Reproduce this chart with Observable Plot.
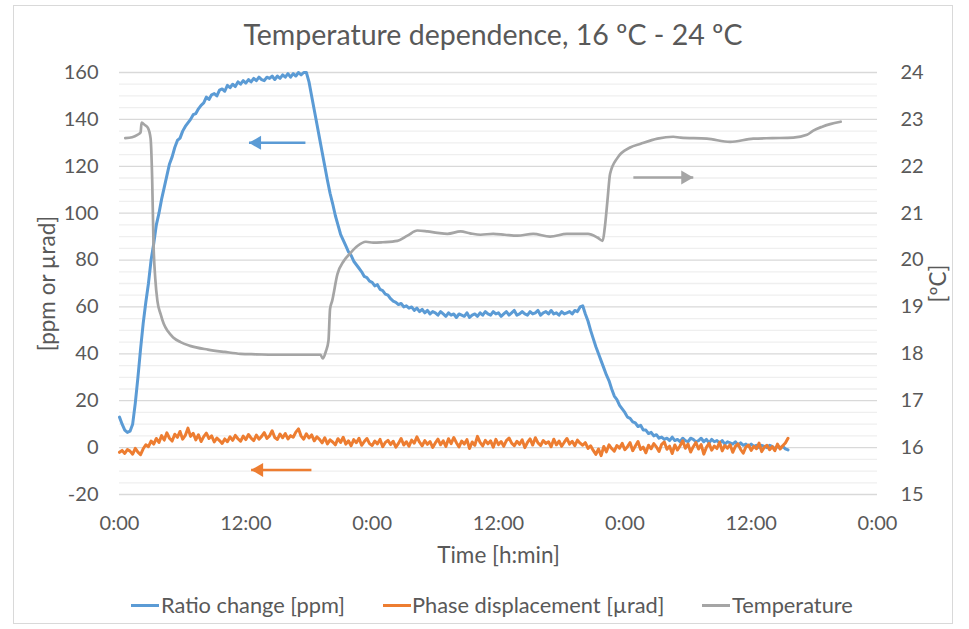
<!DOCTYPE html>
<html>
<head>
<meta charset="utf-8">
<script src="https://cdn.jsdelivr.net/npm/d3@7"></script>
<script src="https://cdn.jsdelivr.net/npm/@observablehq/plot@0.6"></script>
<style>
  body { margin: 0; background: #fff; }
  #wrap { position: relative; width: 969px; height: 629px; font-family: Lato, "Open Sans", sans-serif; color: #595959; overflow: hidden; background: #fff; }
  #border { position: absolute; left: 13px; top: 5px; width: 940px; height: 619px; border: 1px solid #d9d9d9; box-sizing: border-box; }
  #title { position: absolute; left: 0; top: 15px; width: 986px; text-align: center; font-size: 28.5px; line-height: 38px; white-space: nowrap; }
  #chart { position: absolute; left: 0; top: 0; }
  .lg { position: absolute; top: 592px; height: 26px; line-height: 26px; font-size: 21.8px; white-space: nowrap; }
  .sw { position: absolute; top: 604px; width: 28px; height: 3px; }
</style>
</head>
<body>
<div id="wrap">
  <div id="border"></div>
  <div id="title"></div>
  <div id="chart"></div>
  <div id="legend"></div>
</div>
<script>
// ---------- Data ----------
const chartTitle = "Temperature dependence, 16 ºC - 24 ºC";
const seriesNames = ["Ratio change [ppm]", "Phase displacement [µrad]", "Temperature"];
const seriesColors = ["#5b9bd5", "#ed7d31", "#a5a5a5"];

const xTicks = [0, 12, 24, 36, 48, 60, 72];           // hours since start
const xTickLabels = ["0:00", "12:00", "0:00", "12:00", "0:00", "12:00", "0:00"];
const leftTicks = [-20, 0, 20, 40, 60, 80, 100, 120, 140, 160];
const rightTicks = [15, 16, 17, 18, 19, 20, 21, 22, 23, 24];

// Ratio change [ppm], one reading every 0.25 h starting at 0:00
const ratioStep = 0.25;
const ratioPpm = [
  13,10,7.5,6.5,7,10,19,30,
  42,53,62,70,80,87,95,100,
  106,111,116,121,124,128,131,132,
  135,137,138.5,140,142,142.5,144.5,146,
  147,149.5,148.5,150.5,151,150,152.5,153,
  152,154.5,153.5,155,154,156,155,156.5,
  155.5,157,156,157.5,156.5,158,157,156.5,
  158,157.5,158.5,157,158.5,157.5,159,158,
  159.5,158,159.5,158.5,160,159,160,160,
  156,150,144,138,132,126,120,114,
  108.5,104,99,95,91,88.5,86,83.5,
  82,79.5,78,76.5,75,73,72.5,71,
  70.5,69,69.5,67.5,67,65.5,65,63.5,
  62.5,62,61,61.5,60,60.5,59.5,60,
  58.5,59.5,58,59,57.5,58.5,57,58,
  57.5,56.5,58,57,56,57.5,56.5,57,
  55.5,57,56.5,56,57.5,55.5,56.5,57,
  56,57.5,56.5,58,57,56.5,58,57,
  57.5,56,57,58,56.5,57.5,58.5,56.5,
  57,58,57,56.5,58,57,57.5,58.5,
  56.5,57.5,58,57,58.5,57,57.5,56.5,
  58,57,57.5,58,57,58.5,58,60,
  60.5,57,54,50,46.5,43,40,37,
  34,31,28.5,25,22,20.5,18,16.5,
  15,13,12.5,11,10.5,9,9.5,7.5,
  7.5,6,6.5,5,5.5,4,4.5,3.5,
  4,3,4.5,3,3.5,2.5,4,3,
  2.5,4,3.5,2.5,3,4,2.5,3.5,
  2,3.5,2.5,3,2,3,1.5,2.5,
  2,1.5,2.5,1,2,1,1.5,0.5,
  1.5,0.5,1,0,1,0.5,0,1,
  0.5,-0.5,0.5,0,0.5,-0.5,-1
];

// Phase displacement [µrad], one reading every 0.25 h starting at 0:00
const phaseStep = 0.25;
const phaseUrad = [
  -2,-1.2,-2.5,-0.8,-1.5,-2.8,-0.3,-1.9,-3,
  -0.5,1.2,0.4,2.8,1.5,3.9,2.2,
  5.1,3.2,6.3,4.0, 2.8,5.7,4.4,6.9, 3.6,5.2,8.3,4.8, 6.1,3.3,5.5,2.6,
  4.7,6.2,3.9,5.0, 2.4,4.1,3.0,1.8, 3.7,2.5,4.6,3.1, 5.2,3.8,2.7,4.9,
  3.4,5.6,4.0,3.0, 5.3,3.6,4.8,6.4, 3.9,5.0,7.2,4.3, 3.5,5.8,4.2,6.0,
  3.7,5.1,4.4,6.6, 8.0,4.9,3.6,5.9, 4.1,5.4,2.9,4.6,
  3.5,2.0,4.2,1.6,3.3,2.4,1.2,3.8,2.2,4.4,1.5,2.9,0.8,3.4,2.1,4.0,1.0,2.6,3.9,1.7,
  0.9,2.8,1.6,3.5,0.4,2.2,3.1,1.3,
  2.7,0.2,1.8,3.9,1.1,2.5,0.6,3.2,
  1.9,4.6,2.3,0.8,3.0,1.4,2.6,0.1,
  2.0,3.6,1.2,2.9,0.5,3.8,1.7,4.3,
  2.1,0.3,2.8,1.5,3.4,-0.4,2.4,1.0,
  4.8,2.2,0.7,3.1,1.6,2.9,0.2,3.5,
  1.3,2.6,0.6,3.0,4.1,1.9,0.8,2.7,
  1.4,3.3,0.0,2.2,3.7,1.1,4.2,2.0,
  0.9,3.0,1.8,2.5,0.4,3.6,1.2,2.8,
  0.6,2.3,3.9,1.5,2.7,0.8,3.2,1.9,
  1.0,2.1,-0.3,0.8,-1.2,-2.9,-0.6,-3.4,
  0.5,-1.8,1.2,-0.4, -1.5,0.9,-0.2,1.8, -0.9,0.4,2.1,-1.3, 0.7,2.6,-0.8,0.2,
  -2.2,1.0,-0.5,1.7, 0.3,-1.6,1.4,2.4, -0.7,0.6,-2.5,1.1, -1.0,0.8,2.9,-0.3,
  1.5,-1.9,0.4,2.2, -0.6,1.3,-2.8,0.1, 1.8,-1.1,0.7,-0.4, 2.3,-1.4,0.9,-0.2,
  1.2,-2.0,0.5,1.6, -0.8,-2.4,0.3,1.1, -1.2,0.6,-0.5,1.9, -1.7,0.2,1.0,-0.9,
  0.4,-1.3,1.5,-0.6, 0.8,2.0,4.0
];

// Temperature [ºC]
const tempTime = [0.55,1.2,1.7,2.0,2.1,2.4,2.7,2.95,3.1,3.23,3.4,3.6,3.9,4.2,4.6,5.1,5.8,6.7,8.4,10,11.5,13,14.6,16.5,18,19.1,19.3,19.6,19.85,20.0,20.2,20.7,21.3,21.9,22.6,23.4,24.1,25,26.4,27.35,28.3,29.25,30.2,31.15,32.4,33.3,34.3,35.5,36.6,37.8,39.3,40.9,42.5,44.5,45.4,45.9,46.1,46.35,46.6,47.3,48.5,49.5,51.1,52.6,53.3,55.8,58,60.2,62,64,65.3,65.9,66.7,67.5,68.5];
const tempC = [22.6,22.62,22.67,22.72,22.93,22.88,22.82,22.6,21.76,20.35,19.6,19.13,18.85,18.64,18.48,18.35,18.25,18.17,18.09,18.04,18.0,17.99,17.98,17.98,17.98,17.98,17.9,18.05,18.28,18.96,19.13,19.7,19.98,20.14,20.3,20.39,20.37,20.38,20.41,20.52,20.63,20.61,20.58,20.56,20.61,20.57,20.54,20.56,20.54,20.52,20.56,20.5,20.56,20.56,20.48,20.41,20.7,21.27,21.84,22.18,22.4,22.48,22.59,22.63,22.61,22.59,22.52,22.59,22.6,22.61,22.67,22.76,22.84,22.9,22.95];

// Arrow annotations (hours, left-axis units) pointing to each series' axis
const arrowFrom = [17.66, 18.23, 48.81];
const arrowTo = [12.3, 12.5, 54.5];
const arrowY = [130, -9.5, 115.2];
const arrowDir = [-1, -1, 1];

// ---------- Build tables ----------
const tempToLeft = d3.scaleLinear([15, 24], [-20, 160]);
const ratio = ratioPpm.map((v, i) => ({t: i * ratioStep, v}));
const phase = phaseUrad.map((v, i) => ({t: i * phaseStep, v}));
const temp = tempTime.map((t, i) => ({t, v: tempToLeft(tempC[i])}));
const arrows = arrowFrom.map((f, i) => ({from: f, to: arrowTo[i], y: arrowY[i], dir: arrowDir[i], color: seriesColors[i]}));
const minorTicks = d3.range(-20, 160.1, 5).filter(v => v % 20 !== 0);

const plot = Plot.plot({
  width: 969,
  height: 629,
  marginTop: 72,
  marginBottom: 135,
  marginLeft: 119,
  marginRight: 92,
  style: {fontFamily: "Lato, 'Open Sans', sans-serif", fontSize: "20px", color: "#595959", background: "transparent", overflow: "visible"},
  x: {domain: [0, 72]},
  y: {domain: [-20, 160]},
  marks: [
    Plot.gridY(minorTicks, {stroke: "#efefef", strokeOpacity: 1, strokeWidth: 1.3}),
    Plot.gridY(leftTicks, {stroke: "#d9d9d9", strokeOpacity: 1, strokeWidth: 1.3}),
    Plot.axisY(leftTicks, {anchor: "left", tickSize: 0, tickPadding: 21, label: null, fontSize: 20, fill: "#595959",
      tickFormat: d => String(d)}),
    Plot.axisY(leftTicks, {anchor: "right", tickSize: 0, tickPadding: 23, label: null, fontSize: 20, fill: "#595959",
      tickFormat: d => String(rightTicks[leftTicks.indexOf(d)])}),
    Plot.axisX(xTicks, {anchor: "bottom", tickSize: 0, tickPadding: 21, label: null, fontSize: 20, fill: "#595959",
      tickFormat: d => xTickLabels[xTicks.indexOf(d)]}),
    Plot.text(["[ppm or µrad]"], {frameAnchor: "left", dx: -72, rotate: -90, textAnchor: "middle", lineAnchor: "middle", fontSize: 22.5, fill: "#595959"}),
    Plot.text(["[ºC]"], {frameAnchor: "right", dx: 61, rotate: -90, textAnchor: "middle", lineAnchor: "middle", fontSize: 22.5, fill: "#595959"}),
    Plot.text(["Time [h:min]"], {frameAnchor: "bottom", dy: 61, textAnchor: "middle", lineAnchor: "middle", fontSize: 22.5, fill: "#595959"}),
    Plot.line(ratio, {x: "t", y: "v", stroke: seriesColors[0], strokeWidth: 3, strokeLinejoin: "round"}),
    Plot.line(phase, {x: "t", y: "v", stroke: seriesColors[1], strokeWidth: 3, strokeLinejoin: "round"}),
    Plot.line(temp, {x: "t", y: "v", stroke: seriesColors[2], strokeWidth: 2.7, strokeLinejoin: "round", curve: "monotone-x"}),
    Plot.link(arrows, {x1: "from", x2: "to", y1: "y", y2: "y", stroke: "color", strokeWidth: 2.5}),
    Plot.dot(arrows.filter(a => a.dir < 0), {x: "to", y: "y", symbol: "triangle", r: 5.2, rotate: -90, fill: "color", stroke: "none", dx: 8}),
    Plot.dot(arrows.filter(a => a.dir > 0), {x: "to", y: "y", symbol: "triangle", r: 5.2, rotate: 90, fill: "color", stroke: "none", dx: -8})
  ]
});
document.getElementById("chart").appendChild(plot);
document.getElementById("title").textContent = chartTitle;

// Legend
const swLeft = [131, 383, 702];
const txtLeft = [161, 412, 732];
const lg = document.getElementById("legend");
seriesNames.forEach((name, i) => {
  const sw = document.createElement("div");
  sw.className = "sw"; sw.style.left = swLeft[i] + "px"; sw.style.background = seriesColors[i];
  lg.appendChild(sw);
  const t = document.createElement("div");
  t.className = "lg"; t.style.left = txtLeft[i] + "px"; t.textContent = name;
  lg.appendChild(t);
});
</script>
</body>
</html>
